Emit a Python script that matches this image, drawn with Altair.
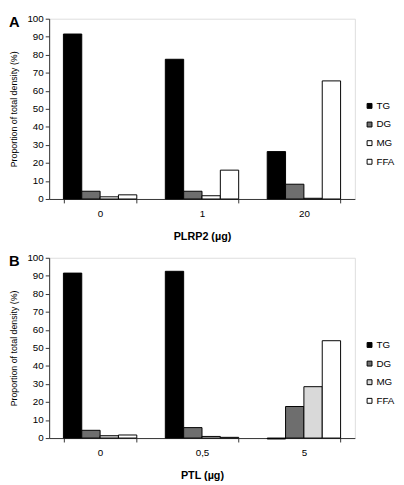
import altair as alt
import pandas as pd

lipids = ["TG", "DG", "MG", "FFA"]

plrp2_doses = ["0", "1", "20"]
plrp2_TG = [91.5, 77.5, 26.3]
plrp2_DG = [4.3, 4.3, 8.2]
plrp2_MG = [1.2, 1.8, 0.4]
plrp2_FFA = [2.3, 16.0, 65.5]

ptl_doses = ["0", "0,5", "5"]
ptl_TG = [91.5, 92.5, -0.5]
ptl_DG = [4.3, 5.8, 17.5]
ptl_MG = [1.3, 0.9, 28.5]
ptl_FFA = [1.7, 0.4, 54.0]

colors_A = ["#000000", "#6e6e6e", "#ffffff", "#ffffff"]
colors_B = ["#000000", "#6e6e6e", "#d9d9d9", "#ffffff"]


def make_df(doses, tg, dg, mg, ffa):
    rows = []
    for i, d in enumerate(doses):
        for lip, vals in zip(lipids, [tg, dg, mg, ffa]):
            rows.append({"dose": d, "lipid": lip, "value": vals[i]})
    return pd.DataFrame(rows)


FONT = "Liberation Sans"
W, H = 312, 184


def panel(df, doses, colors, xtitle, letter):
    bars = alt.Chart(df).mark_bar(stroke="#000000", strokeWidth=1).encode(
        x=alt.X(
            "dose:N",
            sort=doses,
            scale=alt.Scale(paddingInner=0.28, paddingOuter=0.14),
            axis=alt.Axis(
                title=xtitle,
                labelAngle=0,
                labelFont=FONT,
                labelFontSize=10,
                labelColor="#000000",
                labelPadding=6,
                titleFont=FONT,
                titleFontSize=11,
                titleFontWeight="bold",
                titleColor="#000000",
                titlePadding=12,
                tickBand="extent",
                tickSize=4,
                tickColor="#333333",
                domainColor="#333333",
                grid=False,
            ),
        ),
        xOffset=alt.XOffset("lipid:N", sort=lipids, scale=alt.Scale(paddingInner=0, paddingOuter=0)),
        y=alt.Y(
            "value:Q",
            scale=alt.Scale(domain=[0, 100], nice=False, clamp=False),
            axis=alt.Axis(
                title="Proportion of total density (%)",
                values=list(range(0, 101, 10)),
                labelFont=FONT,
                labelFontSize=10,
                labelColor="#000000",
                titleFont=FONT,
                titleFontSize=9,
                titleFontWeight="normal",
                titleColor="#000000",
                titlePadding=9,
                tickSize=4,
                tickColor="#333333",
                domainColor="#333333",
                grid=False,
            ),
        ),
        color=alt.Color(
            "lipid:N",
            sort=lipids,
            scale=alt.Scale(domain=lipids, range=colors),
            legend=alt.Legend(
                title=None,
                orient="none",
                legendX=W + 10,
                legendY=84,
                symbolType="square",
                symbolSize=25,
                symbolStrokeColor="#000000",
                symbolStrokeWidth=1,
                labelFont=FONT,
                labelFontSize=10,
                labelColor="#000000",
                rowPadding=9,
                labelOffset=2,
            ),
        ),
    )
    lab = alt.Chart(pd.DataFrame({"t": [letter]})).mark_text(
        font=FONT, fontSize=15, fontWeight="bold", align="left", baseline="top", color="#000000"
    ).encode(text="t:N", x=alt.value(-41), y=alt.value(-4))
    return alt.layer(bars, lab).properties(width=W, height=H)


dfA = make_df(plrp2_doses, plrp2_TG, plrp2_DG, plrp2_MG, plrp2_FFA)
dfB = make_df(ptl_doses, ptl_TG, ptl_DG, ptl_MG, ptl_FFA)

A = panel(dfA, plrp2_doses, colors_A, "PLRP2 (µg)", "A")
B = panel(dfB, ptl_doses, colors_B, "PTL (µg)", "B")

chart = alt.vconcat(A, B, spacing=10).resolve_scale(color="independent", x="independent").properties(
    padding={"left": 0, "top": 0, "right": 0, "bottom": 0}
).configure_view(stroke=None).configure(background="#ffffff")

chart.save("out.html", embed_options={"renderer": "svg", "actions": False})
